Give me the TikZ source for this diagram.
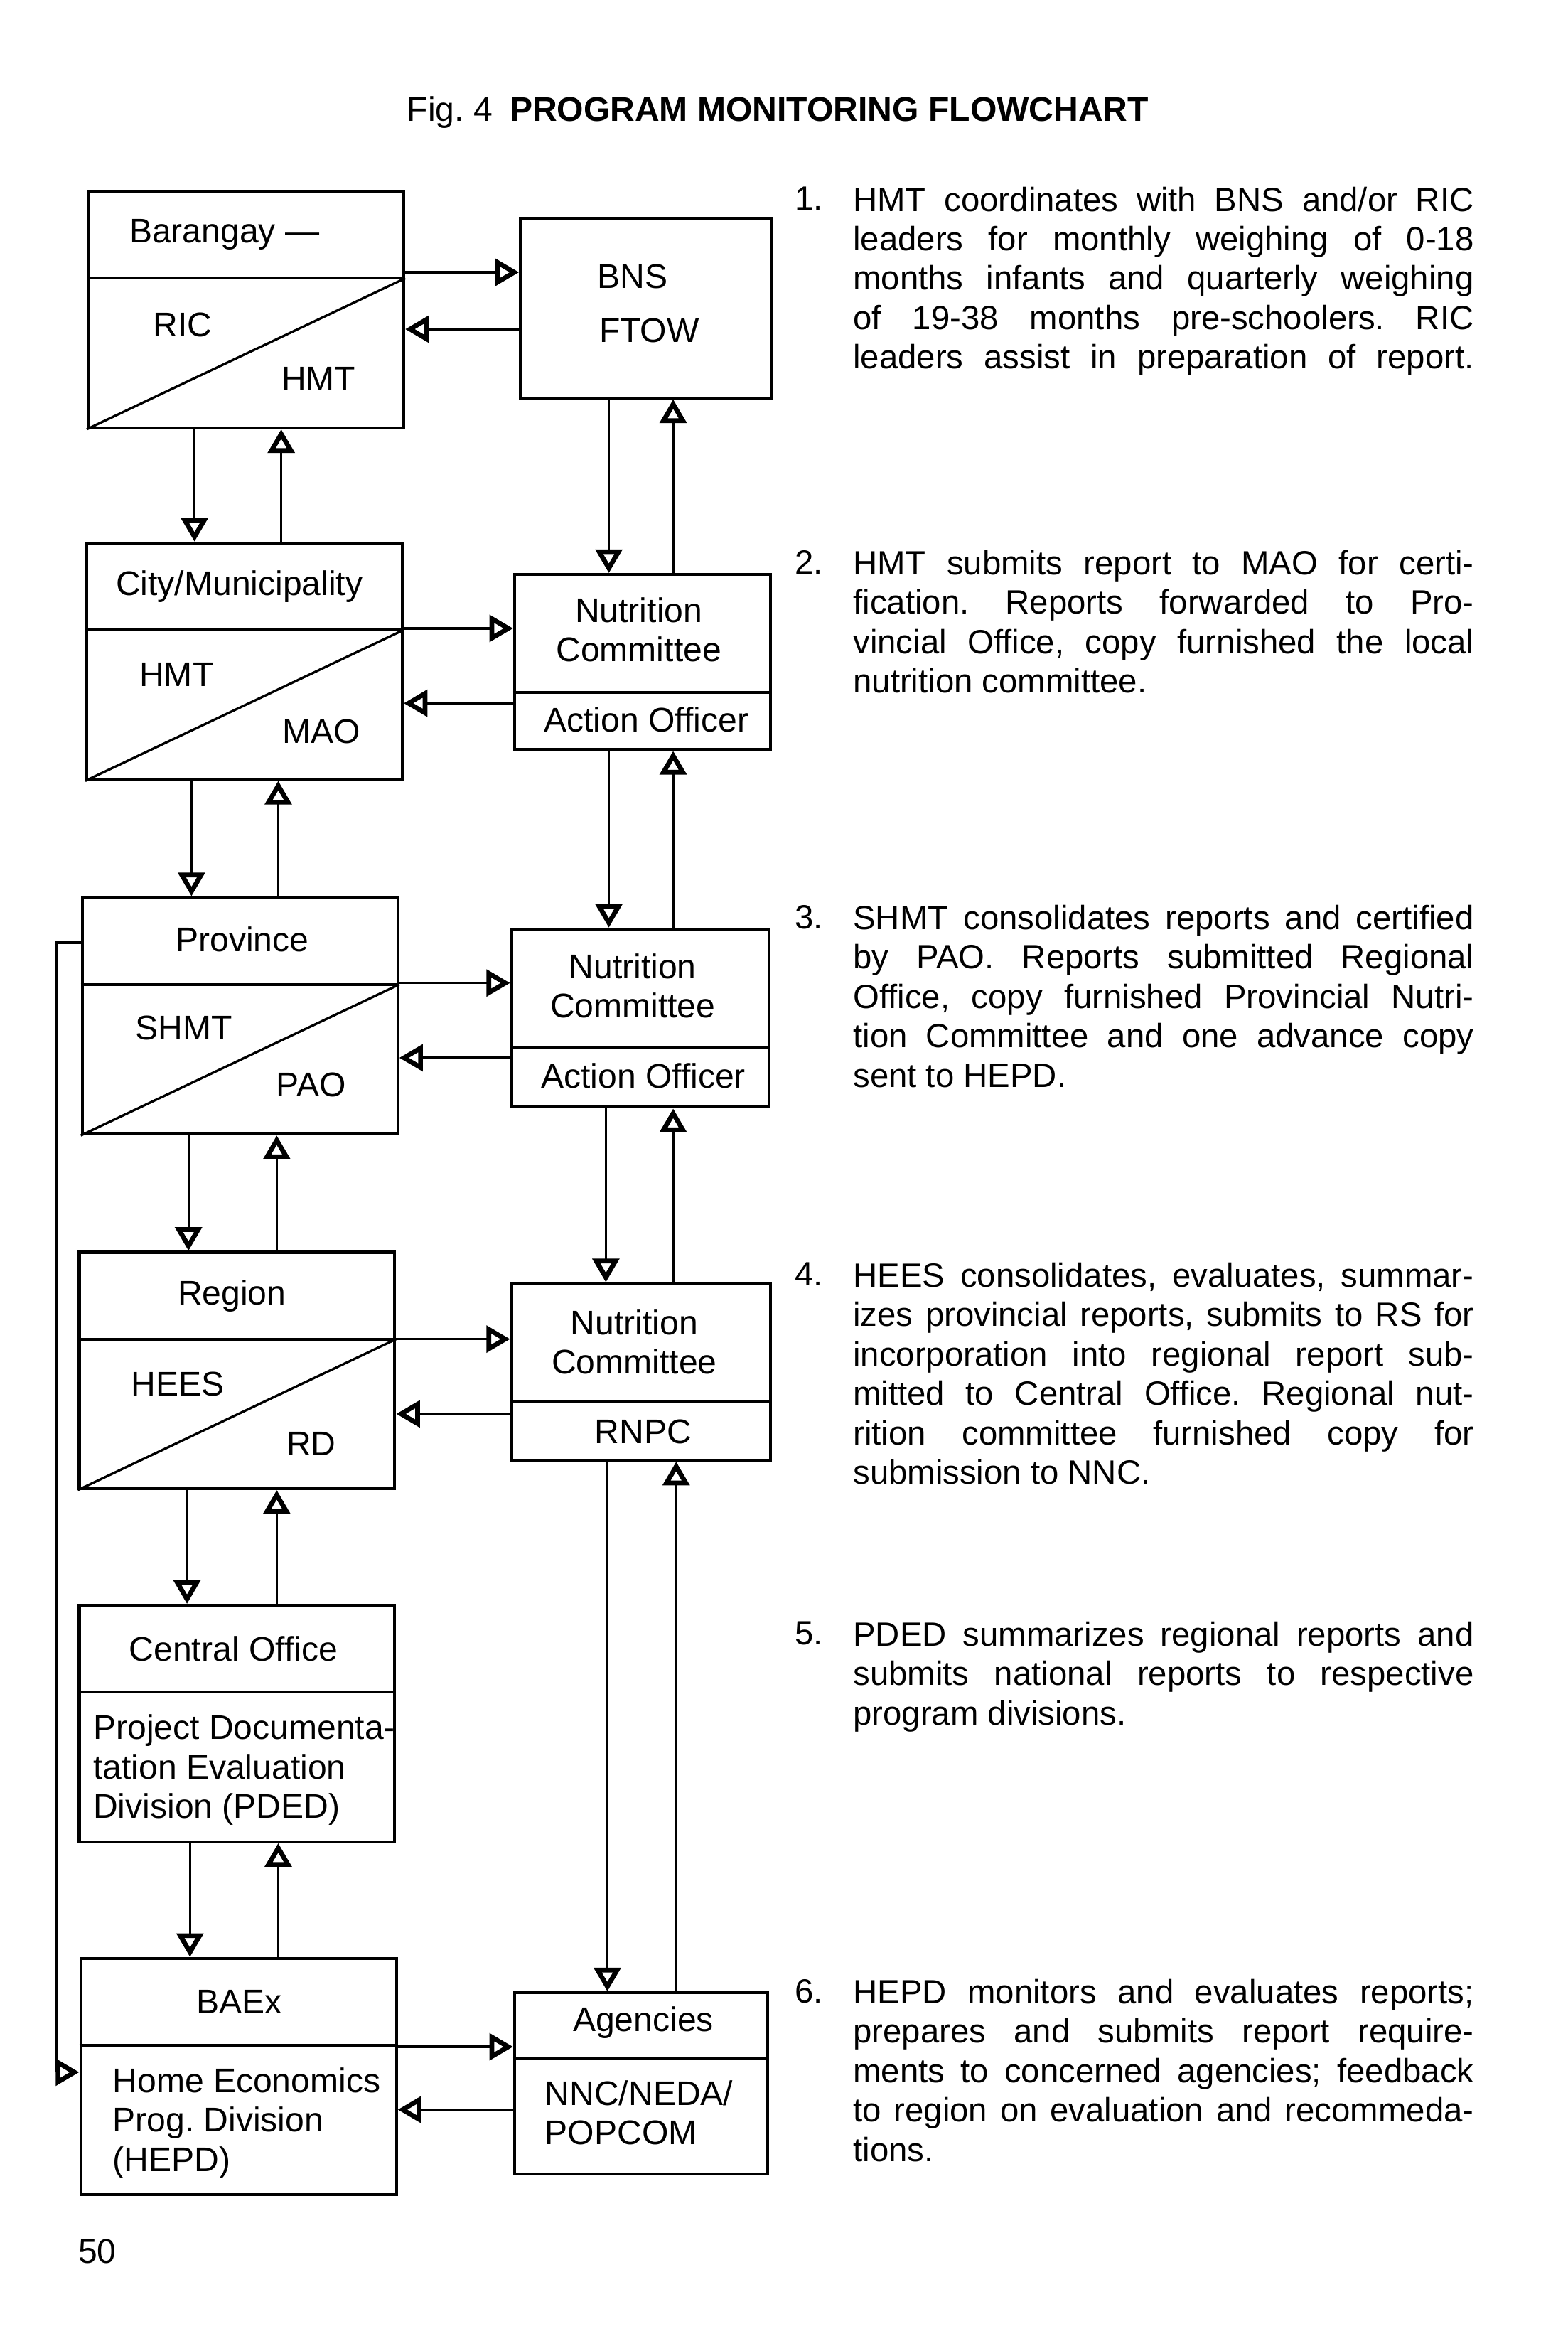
\documentclass[tikz,border=0pt]{standalone}
\usepackage{fontspec}
\setmainfont{Liberation Sans}
\usetikzlibrary{arrows.meta}
\tolerance=10000
\hbadness=10000
\frenchspacing
\tikzstyle{arrow} = [line width=0.9pt,-{Triangle[open,length=9pt,width=10pt,line width=1.8pt]}]
\tikzstyle{lbox} = [draw, line width=1.1pt, anchor=north west, minimum width=4.22cm, minimum height=3.16cm]
\tikzstyle{rbox} = [draw, line width=1.1pt, anchor=north west]
\tikzstyle{lbl} = [font=\fontsize{13}{15}\selectfont, inner sep=0pt]
\tikzstyle{desc} = [font=\fontsize{12.8}{15}\selectfont, anchor=north west, inner sep=0pt, text width=8.3cm, align=justify]
\tikzstyle{num} = [font=\fontsize{12.8}{15}\selectfont, anchor=north west, inner sep=0pt]

\begin{document}
\begin{tikzpicture}[x=0.02cm, y=-0.02cm]
  \useasboundingbox (0,0) rectangle (1048,1568);
  \node[font=\fontsize{13}{15}\selectfont] (title) at (520,75) {Fig. 4\enspace\textbf{PROGRAM MONITORING FLOWCHART}};

  % left column
  \node[lbox] (bar) at (58,127) {};
  \node[lbox] (city) at (57,362) {};
  \node[lbox] (prov) at (54,599) {};
  \node[lbox] (reg) at (52,836) {};
  \node[lbox] (cen) at (52,1072) {};
  \node[lbox] (bae) at (53,1308) {};
  \foreach \b in {bar,city,prov,reg,cen,bae}
    \draw[line width=1.1pt] ([yshift=-1.18cm]\b.north west) -- ([yshift=-1.18cm]\b.north east);
  \foreach \b in {bar,city,prov,reg}
    \draw[line width=0.9pt] (\b.south west) -- ([yshift=-1.18cm]\b.north east);

  \node[lbl] (barT) at (150,157) {Barangay —};
  \node[lbl] (barA) at (122,217) {RIC};
  \node[lbl] (barB) at (213,253) {HMT};
  \node[lbl] (cityT) at (160,392) {City/Municipality};
  \node[lbl] (cityA) at (118,451) {HMT};
  \node[lbl] (cityB) at (215,489) {MAO};
  \node[lbl] (provT) at (162,628) {Province};
  \node[lbl] (provA) at (123,687) {SHMT};
  \node[lbl] (provB) at (208,725) {PAO};
  \node[lbl] (regT) at (155,866) {Region};
  \node[lbl] (regA) at (119,925) {HEES};
  \node[lbl] (regB) at (208,965) {RD};
  \node[lbl] (cenT) at (156,1102) {Central Office};
  \node[lbl, anchor=west, align=left] (cenA) at (62,1183) {Project Documenta-\\tation Evaluation\\Division (PDED)};
  \node[lbl] (baeT) at (160,1338) {BAEx};
  \node[lbl, anchor=west, align=left] (baeA) at (75,1419) {Home Economics\\Prog. Division\\(HEPD)};

  % right column
  \node[rbox, minimum width=3.36cm, minimum height=2.4cm] (bns) at (347,145) {};
  \node[rbox, minimum width=3.42cm, minimum height=2.34cm] (nc1) at (343,383) {};
  \node[rbox, minimum width=3.44cm, minimum height=2.38cm] (nc2) at (341,620) {};
  \node[rbox, minimum width=3.46cm, minimum height=2.36cm] (nc3) at (341,857) {};
  \node[rbox, minimum width=3.38cm, minimum height=2.42cm] (agn) at (343,1331) {};
  \foreach \b in {nc1,nc2,nc3}
    \draw[line width=1.1pt] ([yshift=-1.6cm]\b.north west) -- ([yshift=-1.6cm]\b.north east);
  \draw[line width=1.1pt] ([yshift=-0.9cm]agn.north west) -- ([yshift=-0.9cm]agn.north east);

  \node[lbl] (bnsA) at (423,185) {BNS};
  \node[lbl] (bnsB) at (434,221) {FTOW};
  \node[lbl, align=center] (nc1A) at (427,421) {Nutrition\\Committee};
  \node[lbl] (nc1B) at (432,481) {Action Officer};
  \node[lbl, align=center] (nc2A) at (423,659) {Nutrition\\Committee};
  \node[lbl] (nc2B) at (430,719) {Action Officer};
  \node[lbl, align=center] (nc3A) at (424,897) {Nutrition\\Committee};
  \node[lbl] (nc3B) at (430,957) {RNPC};
  \node[lbl] (agnA) at (430,1352) {Agencies};
  \node[lbl, anchor=west, align=left] (agnB) at (364,1412) {NNC/NEDA/\\POPCOM};

  % horizontal links
  \draw[arrow] (bar.east |- 0,182) -- (bns.west |- 0,182);
  \draw[arrow] (bns.west |- 0,220) -- (bar.east |- 0,220);
  \draw[arrow] (city.east |- 0,420) -- (nc1.west |- 0,420);
  \draw[arrow] (nc1.west |- 0,470) -- (city.east |- 0,470);
  \draw[arrow] (prov.east |- 0,657) -- (nc2.west |- 0,657);
  \draw[arrow] (nc2.west |- 0,707) -- (prov.east |- 0,707);
  \draw[arrow] (reg.east |- 0,895) -- (nc3.west |- 0,895);
  \draw[arrow] (nc3.west |- 0,945) -- (reg.east |- 0,945);
  \draw[arrow] (bae.east |- 0,1368) -- (agn.west |- 0,1368);
  \draw[arrow] (agn.west |- 0,1410) -- (bae.east |- 0,1410);

  % vertical links
  \draw[arrow] (bar.south -| 130,0) -- (city.north -| 130,0);
  \draw[arrow] (city.north -| 188,0) -- (bar.south -| 188,0);
  \draw[arrow] (city.south -| 128,0) -- (prov.north -| 128,0);
  \draw[arrow] (prov.north -| 186,0) -- (city.south -| 186,0);
  \draw[arrow] (prov.south -| 126,0) -- (reg.north -| 126,0);
  \draw[arrow] (reg.north -| 185,0) -- (prov.south -| 185,0);
  \draw[arrow] (reg.south -| 125,0) -- (cen.north -| 125,0);
  \draw[arrow] (cen.north -| 185,0) -- (reg.south -| 185,0);
  \draw[arrow] (cen.south -| 127,0) -- (bae.north -| 127,0);
  \draw[arrow] (bae.north -| 186,0) -- (cen.south -| 186,0);
  \draw[arrow] (bns.south -| 407,0) -- (nc1.north -| 407,0);
  \draw[arrow] (nc1.north -| 450,0) -- (bns.south -| 450,0);
  \draw[arrow] (nc1.south -| 407,0) -- (nc2.north -| 407,0);
  \draw[arrow] (nc2.north -| 450,0) -- (nc1.south -| 450,0);
  \draw[arrow] (nc2.south -| 405,0) -- (nc3.north -| 405,0);
  \draw[arrow] (nc3.north -| 450,0) -- (nc2.south -| 450,0);
  \draw[arrow] (nc3.south -| 406,0) -- (agn.north -| 406,0);
  \draw[arrow] (agn.north -| 452,0) -- (nc3.south -| 452,0);

  % feedback
  \draw[arrow] (prov.west |- 0,630) -- ++(-16,0) |- (bae.west |- 0,1385);

  % notes
  \node[num] (n1) at (531,124.5) {1.};
  \node[desc] (d1) at (570,124.5) {HMT coordinates with BNS and/or RIC\linebreak leaders for monthly weighing of 0-18\linebreak months infants and quarterly weighing\linebreak of 19-38 months pre-schoolers. RIC\linebreak leaders assist in preparation of report.\linebreak};
  \node[num] (n2) at (531,367.5) {2.};
  \node[desc] (d2) at (570,367.5) {HMT submits report to MAO for certi-\linebreak fication. Reports forwarded to Pro-\linebreak vincial Office, copy furnished the local\linebreak nutrition committee.};
  \node[num] (n3) at (531,604.5) {3.};
  \node[desc] (d3) at (570,604.5) {SHMT consolidates reports and certified\linebreak by PAO. Reports submitted Regional\linebreak Office, copy furnished Provincial Nutri-\linebreak tion Committee and one advance copy\linebreak sent to HEPD.};
  \node[num] (n4) at (531,843.5) {4.};
  \node[desc] (d4) at (570,843.5) {HEES consolidates, evaluates, summar-\linebreak izes provincial reports, submits to RS for\linebreak incorporation into regional report sub-\linebreak mitted to Central Office. Regional nut-\linebreak rition committee furnished copy for\linebreak submission to NNC.};
  \node[num] (n5) at (531,1083.5) {5.};
  \node[desc] (d5) at (570,1083.5) {PDED summarizes regional reports and\linebreak submits national reports to respective\linebreak program divisions.};
  \node[num] (n6) at (531,1322.5) {6.};
  \node[desc] (d6) at (570,1322.5) {HEPD monitors and evaluates reports;\linebreak prepares and submits report require-\linebreak ments to concerned agencies; feedback\linebreak to region on evaluation and recommeda-\linebreak tions.};

  \node[lbl] (page) at (65,1505) {50};
\end{tikzpicture}
\end{document}
